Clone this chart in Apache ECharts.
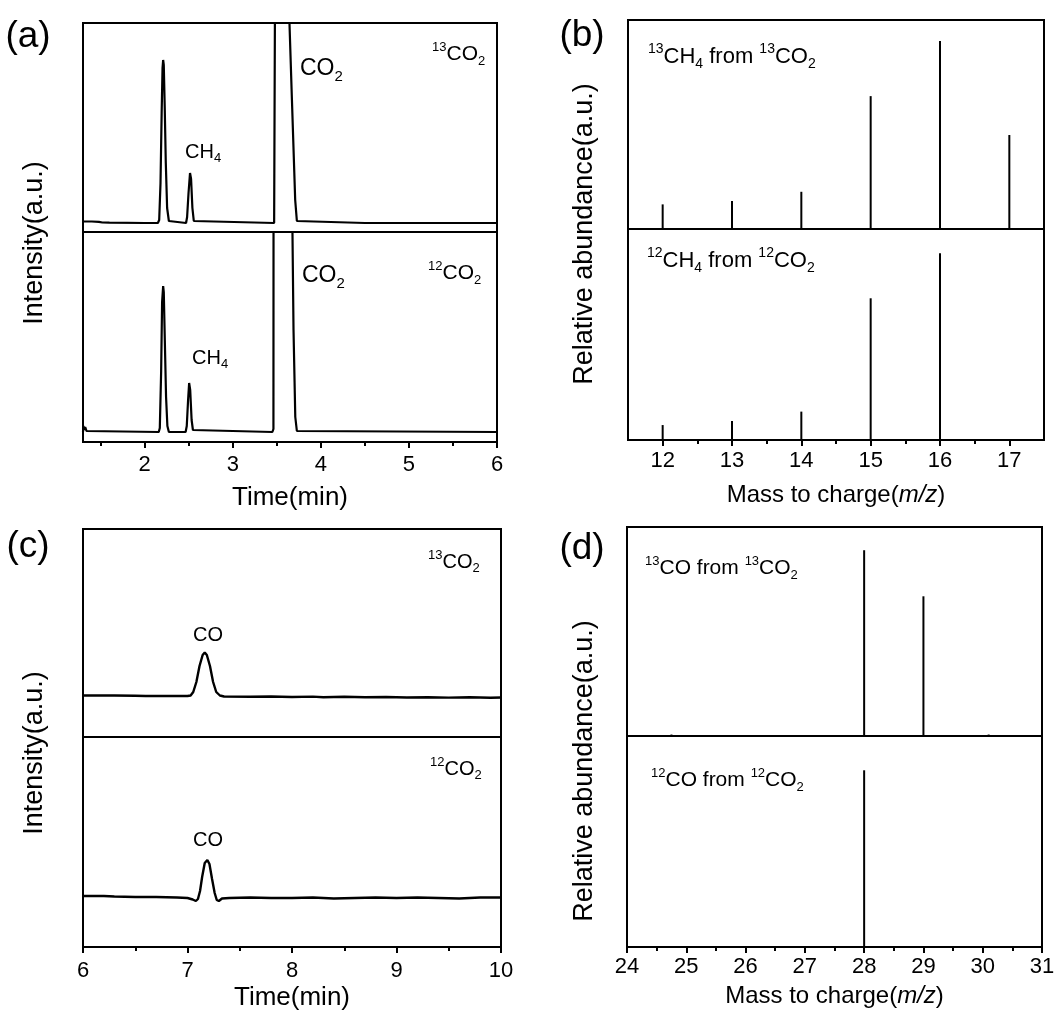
<!DOCTYPE html>
<html><head><meta charset="utf-8">
<script src="https://cdn.jsdelivr.net/npm/echarts@6/dist/echarts.min.js"></script>
<style>html,body{margin:0;padding:0;background:#fff}#c{width:1054px;height:1014px}</style>
</head><body><div id="c"></div>
<script>
// ---------------- DATA ----------------
// (a) GC traces, time (min) vs intensity (a.u.)
const chromA_13CO2 = [[1.30,1.5],[1.40,1.5],[1.48,1.2],[1.52,0.5],[1.60,0.3],[2.00,0],[2.15,0],[2.165,3],[2.18,40],[2.193,110],[2.203,155],[2.21,163],[2.217,158],[2.228,115],[2.24,60],[2.255,15],[2.275,2],[2.29,0],[2.47,0],[2.482,6],[2.498,30],[2.515,50],[2.527,44],[2.542,15],[2.558,2],[2.57,0],[3.47,0],[3.485,2],[3.487,400],[3.62,400],[3.644,200],[3.672,123],[3.709,23],[3.728,2],[3.75,0],[4.5,0],[6.0,0]];
const chromA_12CO2 = [[1.30,0],[1.305,6],[1.315,2],[1.325,5],[1.34,1],[1.36,0],[2.16,0],[2.172,4],[2.187,60],[2.198,130],[2.21,146],[2.217,140],[2.228,95],[2.243,35],[2.258,6],[2.275,0],[2.465,0],[2.478,6],[2.493,32],[2.505,49],[2.517,42],[2.533,12],[2.548,2],[2.56,0],[3.45,0],[3.462,3],[3.464,400],[3.66,400],[3.678,200],[3.69,102],[3.71,15],[3.728,1],[3.75,0],[6.0,0]];
// (b) mass spectra of CH4
const msB_mz = [12,13,14,15,16,17];
const msB_13CH4 = [13.1,14.9,19.8,70.7,100,50];
const msB_12CH4 = [8.0,10.2,15.2,75.9,100,0];
// (c) GC traces of CO
const chromC_13CO2 = [[6.0,0.5],[6.3,0.5],[6.5,0.2],[6.6,0],[7.0,0],[7.03,0.5],[7.055,4],[7.085,14],[7.115,30],[7.145,41],[7.165,43.5],[7.185,41],[7.215,30],[7.245,14],[7.275,4],[7.31,0.5],[7.35,-0.5],[7.6,-0.8],[7.8,-0.5],[8.0,-1],[8.2,-0.6],[8.3,-1.2],[8.5,-0.8],[8.7,-1.3],[8.9,-1],[9.1,-1.5],[9.3,-1.2],[9.5,-1.6],[9.7,-1.3],[9.9,-1.8],[10.0,-1.5]];
const chromC_12CO2 = [[6.0,1],[6.2,1],[6.3,0.5],[6.5,0],[6.7,0],[6.9,-0.5],[7.0,-1],[7.05,-2.5],[7.08,-4],[7.1,-2],[7.12,6],[7.14,20],[7.165,34],[7.19,37],[7.21,33],[7.235,18],[7.26,4],[7.28,-3],[7.30,-4],[7.33,-1.5],[7.4,-1],[7.6,-0.5],[7.8,-1],[8.0,-1],[8.2,-0.5],[8.4,-1.5],[8.6,-1],[8.8,-0.5],[9.0,-1],[9.2,-0.5],[9.4,-1],[9.6,-1.5],[9.8,-0.5],[10.0,-0.5]];
// (d) mass spectra of CO
const msD_mz = [24.75,28,29,30.1];
const msD_13CO = [0.8,100,75.2,0.8];
const msD_12CO = [0,100,0,0];
// tick labels
const ticksA = [2,3,4,5,6],            minorA = [1.5,2.5,3.5,4.5,5.5];
const ticksB = [12,13,14,15,16,17],    minorB = [12.5,13.5,14.5,15.5,16.5];
const ticksC = [6,7,8,9,10],           minorC = [6.5,7.5,8.5,9.5];
const ticksD = [24,25,26,27,28,29,30,31], minorD = [24.5,25.5,26.5,27.5,28.5,29.5,30.5];

// ---------------- CHART ----------------
const FONT = '"Liberation Sans", Arial, Helvetica, sans-serif';
const panels = [
  {left:83, width:414, topT:23, hT:209, hB:210, xmin:1.3, xmax:6, ticks:ticksA, minor:minorA, yT:[-9,200], yB:[-10,200],
   name:'Time(min)', nameSize:26, nameGap:43, labMargin:12, seriesT:chromA_13CO2, seriesB:chromA_12CO2, kind:'line', lw:2.2},
  {left:628, width:416, topT:20, hT:209, hB:211, xmin:11.5, xmax:17.5, ticks:ticksB, minor:minorB, yT:[0,111.2], yB:[0,113],
   name:'Mass to charge({i|m/z})', nameSize:24, nameGap:43, labMargin:10,
   seriesT:msB_mz.map((m,i)=>[m,msB_13CH4[i]]), seriesB:msB_mz.map((m,i)=>[m,msB_12CH4[i]]), kind:'bar'},
  {left:83, width:418, topT:529, hT:208, hB:210, xmin:6, xmax:10, ticks:ticksC, minor:minorC, yT:[-41,167], yB:[-50,160],
   name:'Time(min)', nameSize:26, nameGap:38, labMargin:13, seriesT:chromC_13CO2, seriesB:chromC_12CO2, kind:'line', lw:2.4},
  {left:627, width:415, topT:527, hT:209, hB:211, xmin:24, xmax:31, ticks:ticksD, minor:minorD, yT:[0,112.5], yB:[0,119.4],
   name:'Mass to charge({i|m/z})', nameSize:24, nameGap:37, labMargin:9,
   seriesT:msD_mz.map((m,i)=>[m,msD_13CO[i]]), seriesB:msD_mz.map((m,i)=>[m,msD_12CO[i]]), kind:'bar'}
];

const grid = [], xAxis = [], yAxis = [], series = [];
panels.forEach(p => {
  const gT = grid.length;
  grid.push({left:p.left, top:p.topT, width:p.width, height:p.hT, show:true, borderColor:'#000', borderWidth:2, backgroundColor:'rgba(0,0,0,0)', outerBoundsMode:'none', containLabel:false});
  const gB = grid.length;
  grid.push({left:p.left, top:p.topT+p.hT, width:p.width, height:p.hB, show:true, borderColor:'#000', borderWidth:2, backgroundColor:'rgba(0,0,0,0)', outerBoundsMode:'none', containLabel:false});
  const xT = xAxis.length;
  xAxis.push({gridIndex:gT, type:'value', min:p.xmin, max:p.xmax, show:false});
  const xB = xAxis.length;
  xAxis.push({gridIndex:gB, type:'value', min:p.xmin, max:p.xmax, position:'bottom',
    axisLine:{show:true, onZero:false, lineStyle:{color:'#000', width:2}},
    axisTick:{show:true, customValues:p.ticks, length:6, lineStyle:{color:'#000', width:2}},
    axisLabel:{customValues:p.ticks, color:'#000', fontSize:22, fontFamily:FONT, margin:p.labMargin},
    splitLine:{show:false},
    name:p.name, nameLocation:'middle', nameGap:p.nameGap,
    nameTextStyle:{color:'#000', fontSize:p.nameSize, fontFamily:FONT,
      rich:{i:{fontStyle:'italic', fontSize:p.nameSize, fontFamily:FONT, color:'#000'}}}
  });
  xAxis.push({gridIndex:gB, type:'value', min:p.xmin, max:p.xmax, position:'bottom', offset:0,
    axisLine:{show:false, onZero:false}, axisTick:{show:true, customValues:p.minor, length:4, lineStyle:{color:'#000', width:2}},
    axisLabel:{show:false}, splitLine:{show:false}});
  const yT = yAxis.length;
  yAxis.push({gridIndex:gT, type:'value', min:p.yT[0], max:p.yT[1], show:false});
  const yB = yAxis.length;
  yAxis.push({gridIndex:gB, type:'value', min:p.yB[0], max:p.yB[1], show:false});
  [[xT,yT,p.seriesT],[xB,yB,p.seriesB]].forEach(([xi,yi,d]) => {
    if (p.kind === 'line') {
      series.push({type:'line', xAxisIndex:xi, yAxisIndex:yi, data:d, symbol:'none', clip:true,
        lineStyle:{color:'#000', width:p.lw||2}, silent:true});
    } else {
      series.push({type:'bar', xAxisIndex:xi, yAxisIndex:yi, data:d, barWidth:2,
        itemStyle:{color:'#000'}, silent:true});
    }
  });
});

function rich(fs){
  const s = Math.round(fs*0.64);
  return {
    n:{fontSize:fs, fontFamily:FONT, fill:'#000', color:'#000', lineHeight:Math.round(fs*1.3)},
    sup:{fontSize:s, fontFamily:FONT, fill:'#000', color:'#000', verticalAlign:'top'},
    sub:{fontSize:s, fontFamily:FONT, fill:'#000', color:'#000', verticalAlign:'bottom'}
  };
}
function lab(x, y, text, fs){
  return {type:'text', x:x, y:y, z:100, style:{text:text, rich:rich(fs), textAlign:'left', textVerticalAlign:'middle', verticalAlign:'middle', font:fs+'px '+FONT, fill:'#000'}};
}
function plain(x, y, text, fs, rot){
  return {type:'text', x:x, y:y, rotation:rot||0, z:100, style:{text:text, font:fs+'px '+FONT, fill:'#000', textAlign:'center', textVerticalAlign:'middle', align:'center', verticalAlign:'middle'}};
}
const graphic = [
  plain(28, 37, '(a)', 37), plain(582, 36, '(b)', 37), plain(28, 547, '(c)', 37), plain(582, 549, '(d)', 37),
  plain(35, 243, 'Intensity(a.u.)', 27, Math.PI/2),
  plain(585, 234, 'Relative abundance(a.u.)', 27, Math.PI/2),
  plain(35, 753, 'Intensity(a.u.)', 27, Math.PI/2),
  plain(585, 771, 'Relative abundance(a.u.)', 27, Math.PI/2),
  // (a)
  lab(300, 69, '{n|CO}{sub|2}', 23),
  lab(432, 54, '{sup|13}{n|CO}{sub|2}', 21),
  lab(185, 152, '{n|CH}{sub|4}', 20),
  lab(302, 276, '{n|CO}{sub|2}', 23),
  lab(428, 273, '{sup|12}{n|CO}{sub|2}', 21),
  lab(192, 358, '{n|CH}{sub|4}', 20),
  // (b)
  lab(648, 57, '{sup|13}{n|CH}{sub|4}{n| from }{sup|13}{n|CO}{sub|2}', 22),
  lab(647, 261, '{sup|12}{n|CH}{sub|4}{n| from }{sup|12}{n|CO}{sub|2}', 22),
  // (c)
  lab(428, 562, '{sup|13}{n|CO}{sub|2}', 20),
  lab(193, 635, '{n|CO}', 20),
  lab(430, 769, '{sup|12}{n|CO}{sub|2}', 20),
  lab(193, 840, '{n|CO}', 20),
  // (d)
  lab(645, 568, '{sup|13}{n|CO from }{sup|13}{n|CO}{sub|2}', 21),
  lab(651, 780, '{sup|12}{n|CO from }{sup|12}{n|CO}{sub|2}', 21)
];

const chart = echarts.init(document.getElementById('c'), null, {renderer:'canvas'});
chart.setOption({animation:false, backgroundColor:'#fff', grid, xAxis, yAxis, series, graphic});
</script></body></html>
